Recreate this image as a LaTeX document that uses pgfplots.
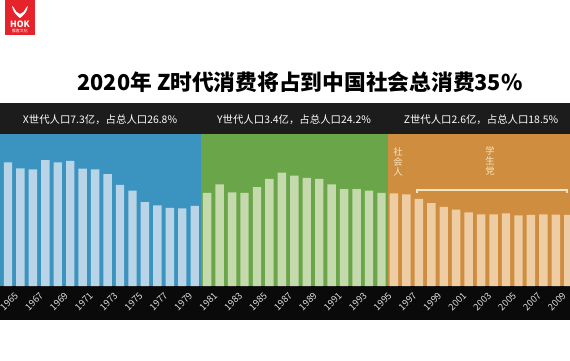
\documentclass[border=0pt]{standalone}
\usepackage{pgfplots}
\pgfplotsset{compat=1.18}
\usepackage{fontspec}
\setmainfont{Noto Sans CJK SC}
\definecolor{blueP}{RGB}{59,148,192}
\definecolor{blueB}{RGB}{184,212,230}
\definecolor{greenP}{RGB}{106,166,73}
\definecolor{greenB}{RGB}{196,218,172}
\definecolor{orangeP}{RGB}{207,142,63}
\definecolor{orangeB}{RGB}{238,204,164}
\definecolor{darkband}{RGB}{28,28,28}
\definecolor{blackband}{RGB}{10,10,10}
\definecolor{ticklab}{RGB}{220,220,220}
\definecolor{cream}{RGB}{245,228,196}
\definecolor{logored}{RGB}{230,34,42}
\begin{document}
\begin{tikzpicture}
\useasboundingbox (0pt,0pt) rectangle (427.5pt,-270pt);
\fill[white] (0pt,0pt) rectangle (427.5pt,-270pt);
\clip (0pt,0pt) rectangle (427.5pt,-270pt);
\begin{scope}[x=0.75pt,y=-0.75pt]
% logo
\fill[logored] (5,0) rectangle (35,35);
\fill[white] (12,6) .. controls (13,12) and (16,15) .. (20,18) .. controls (24,15) and (27,12) .. (28,6) -- (26,8) .. controls (25,11) and (23,13) .. (20,14) .. controls (17,13) and (15,11) .. (14,8) -- cycle;
\node[text=white, font=\bfseries\fontsize{6.5}{7}\selectfont, inner sep=0pt] at (20,24) {HOK};
\node[text=white, font=\fontsize{3}{3.5}\selectfont, inner sep=0pt] at (20,30.5) {猴客文化};
% title
\node[text=black, font=\bfseries\fontsize{16.3}{18}\selectfont, inner sep=0pt] at (300,82) {2020年 Z时代消费将占到中国社会总消费35\%};
% bands
\fill[darkband] (0,103) rectangle (570,134);
\fill[blueP] (0,134) rectangle (201,286);
\fill[greenP] (201,134) rectangle (387.7,286);
\fill[orangeP] (387.7,134) rectangle (570,286);
\fill[blackband] (0,286) rectangle (570,320);
% header labels
\node[text=white, font=\fontsize{7.8}{9}\selectfont, inner sep=0pt] at (100,119.5) {X世代人口7.3亿，占总人口26.8\%};
\node[text=white, font=\fontsize{7.8}{9}\selectfont, inner sep=0pt] at (294,119.5) {Y世代人口3.4亿，占总人口24.2\%};
\node[text=white, font=\fontsize{7.8}{9}\selectfont, inner sep=0pt] at (481,119.5) {Z世代人口2.6亿，占总人口18.5\%};
\end{scope}
\begin{axis}[
  at={(0pt,-214.5pt)}, anchor=south west,
  width=427.5pt, height=114pt, scale only axis,
  xmin=1964.36, xmax=2010.14, ymin=0.64, ymax=33.05,
  axis line style={draw=none},
  major tick length=0pt,
  ytick=\empty,
  xtick={1965,1967,...,2009},
  /pgf/number format/1000 sep={},
  /pgf/number format/assume math mode=true,
  xticklabel style={font=\fontsize{7}{8}\selectfont, text=ticklab, inner sep=0pt, xshift=6.5pt, yshift=-6pt, rotate=45, anchor=east},
]
\addplot[ybar, bar width=0.675, fill=blueB, draw=none] coordinates {
(1965,27.0) (1966,25.7) (1967,25.5) (1968,27.5) (1969,27.0) (1970,27.3) (1971,25.65) (1972,25.5)
(1973,24.5) (1974,22.2) (1975,20.96) (1976,18.5) (1977,17.85) (1978,17.3) (1979,17.2) (1980,17.7)};
\addplot[ybar, bar width=0.675, fill=greenB, draw=none] coordinates {
(1981,20.5) (1982,22.3) (1983,20.6) (1984,20.5) (1985,21.7) (1986,23.5) (1987,24.8) (1988,24.2)
(1989,23.7) (1990,23.5) (1991,22.3) (1992,21.3) (1993,21.3) (1994,21.0) (1995,20.5)};
\addplot[ybar, bar width=0.675, fill=orangeB, draw=none] coordinates {
(1996,20.4) (1997,20.2) (1998,19.2) (1999,18.3) (2000,17.5) (2001,16.9) (2002,16.35) (2003,15.9)
(2004,15.9) (2005,16.1) (2006,15.7) (2007,15.8) (2008,15.9) (2009,15.85) (2010,15.8)};
\end{axis}
\begin{scope}[x=0.75pt,y=-0.75pt]
\node[text=cream, font=\fontsize{7}{7.6}\selectfont, align=center, inner sep=0pt] at (398,162) {社\\会\\人};
\node[text=cream, font=\fontsize{7}{7.6}\selectfont, align=center, inner sep=0pt] at (490,161) {学\\生\\党};
\draw[cream, line width=0.9pt] (417,193) -- (417,190) -- (567,190) -- (567,193);
\end{scope}
\end{tikzpicture}
\end{document}
